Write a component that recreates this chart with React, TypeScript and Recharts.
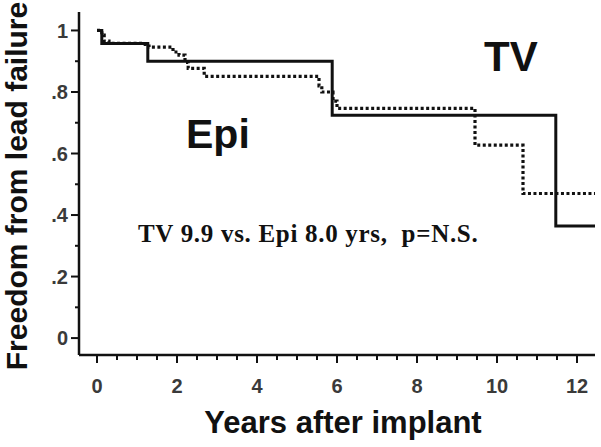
import { LineChart, Line, XAxis, YAxis } from "recharts";

// solid curve (TV)
const tvYears = [0, 0.12, 1.27, 5.88, 11.47, 12.45];
const tvFree = [1, 0.958, 0.9, 0.724, 0.364, 0.364];

// dotted curve (Epi)
const epiYears = [0, 0.12, 0.18, 0.3, 1.15, 1.3, 1.9, 2.05, 2.2, 2.28, 2.68, 5.55, 5.62, 5.9, 6.0, 9.45, 10.65, 12.45];
const epiFree = [1, 0.985, 0.965, 0.958, 0.955, 0.946, 0.93, 0.92, 0.896, 0.877, 0.851, 0.82, 0.8, 0.77, 0.747, 0.627, 0.47, 0.47];

const xTicks = Array.from({ length: 25 }, (_, i) => i * 0.5);
const yTicks = [0, 0.1, 0.2, 0.3, 0.4, 0.5, 0.6, 0.7, 0.8, 0.9, 1];
const yLabels: Record<string, string> = { "0": "0", "0.2": ".2", "0.4": ".4", "0.6": ".6", "0.8": ".8", "1": "1" };

const tv = tvYears.map((t, i) => ({ t, s: tvFree[i] }));
const epi = epiYears.map((t, i) => ({ t, s: epiFree[i] }));

const ink = "#111";
const sans = "'Liberation Sans', Arial, sans-serif";

function YTick({ x, y, payload }: any) {
  const v = Math.round(payload.value * 10) / 10;
  const label = yLabels[String(v)];
  return (
    <g>
      <line x1={x} x2={x - (label ? 8 : 4)} y1={y} y2={y} stroke={ink} strokeWidth={2} />
      {label && (
        <text x={x - 11} y={y} dy="0.36em" textAnchor="end" fontFamily={sans} fontWeight="bold" fontSize={20} fill="#3a3a3a">
          {label}
        </text>
      )}
    </g>
  );
}

function XTick({ x, y, payload }: any) {
  const v = payload.value;
  const major = v % 2 === 0;
  return (
    <g>
      <line x1={x} x2={x} y1={y} y2={y + (major ? 8 : 5)} stroke={ink} strokeWidth={2} />
      {major && (
        <text x={x} y={y + 38} textAnchor="middle" fontFamily={sans} fontWeight="bold" fontSize={20} fill="#3a3a3a">
          {v}
        </text>
      )}
    </g>
  );
}

export default function App() {
  return (
    <div style={{ position: "absolute", left: 0, top: 0, width: 601, height: 447, background: "#fff" }}>
      <LineChart width={601} height={447} margin={{ top: 12, right: 6, bottom: 0, left: 0 }}>
        <XAxis
          type="number"
          dataKey="t"
          domain={[-0.45, 12.45]}
          ticks={xTicks}
          interval={0}
          tickSize={0}
          tickMargin={0}
          tickLine={false}
          tick={<XTick />}
          height={92}
          axisLine={{ stroke: ink, strokeWidth: 2.5 }}
          allowDataOverflow
        />
        <YAxis
          type="number"
          domain={[-0.055, 1.06]}
          ticks={yTicks}
          interval={0}
          tickSize={0}
          tickMargin={0}
          tickLine={false}
          tick={<YTick />}
          width={79}
          axisLine={{ stroke: ink, strokeWidth: 2.5 }}
          allowDataOverflow
        />
        <Line
          data={epi}
          dataKey="s"
          type="stepAfter"
          stroke={ink}
          strokeWidth={3.2}
          strokeDasharray="3 2.5"
          dot={false}
          isAnimationActive={false}
        />
        <Line
          data={tv}
          dataKey="s"
          type="stepAfter"
          stroke={ink}
          strokeWidth={3}
          dot={false}
          isAnimationActive={false}
        />
      </LineChart>
      <svg width={601} height={447} style={{ position: "absolute", left: 0, top: 0, pointerEvents: "none" }}>
        <text x={484} y={71} fontFamily={sans} fontWeight="bold" fontSize={42} fill={ink}>TV</text>
        <text x={186} y={148} fontFamily={sans} fontWeight="bold" fontSize={41} fill={ink}>Epi</text>
        <text
          x={138}
          y={242}
          fontFamily="'Liberation Serif', 'Times New Roman', serif"
          fontWeight="bold"
          fontSize={25}
          letterSpacing={0.7}
          fill={ink}
          style={{ whiteSpace: "pre" }}
        >
          TV 9.9 vs. Epi 8.0 yrs,  p=N.S.
        </text>
        <text x={343} y={433} textAnchor="middle" fontFamily={sans} fontWeight="bold" fontSize={31} fill={ink}>
          Years after implant
        </text>
        <text
          transform="translate(27,186) rotate(-90)"
          textAnchor="middle"
          fontFamily={sans}
          fontWeight="bold"
          fontSize={30}
          fill={ink}
        >
          Freedom from lead failure
        </text>
      </svg>
    </div>
  );
}
